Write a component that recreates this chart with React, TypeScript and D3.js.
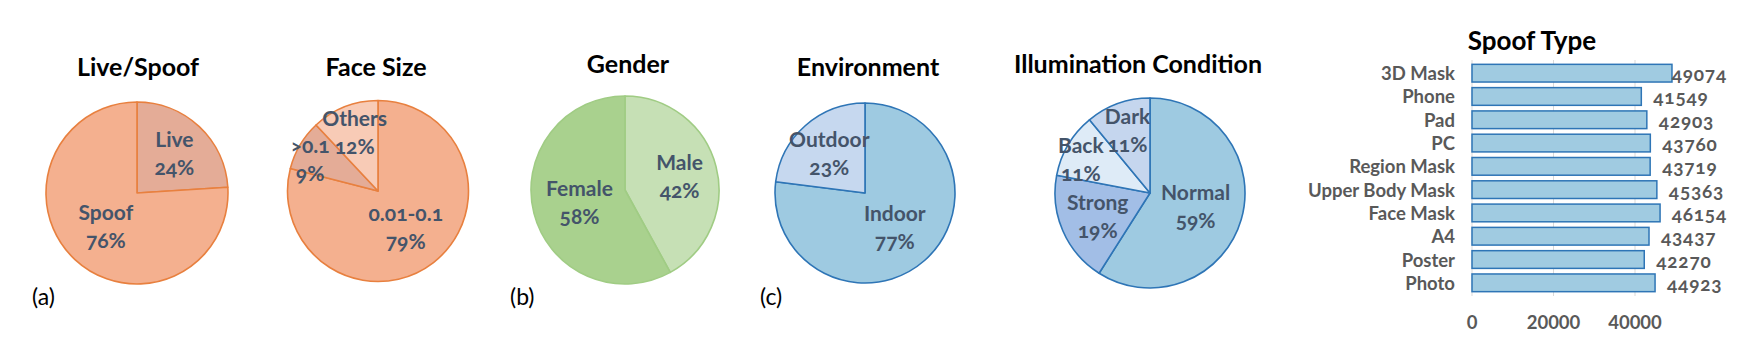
import * as d3 from 'd3';

const W = 1754;
const H = 362;

// pie data
const liveSpoofLabels = ['Live', 'Spoof'];
const liveSpoofValues = [24, 76];
const faceSizeLabels = ['0.01-0.1', '>0.1', 'Others'];
const faceSizeValues = [79, 9, 12];
const genderLabels = ['Male', 'Female'];
const genderValues = [42, 58];
const envLabels = ['Indoor', 'Outdoor'];
const envValues = [77, 23];
const illumLabels = ['Normal', 'Strong', 'Back', 'Dark'];
const illumValues = [59, 19, 11, 11];

// bar data
const spoofTypes = ['3D Mask', 'Phone', 'Pad', 'PC', 'Region Mask', 'Upper Body Mask', 'Face Mask', 'A4', 'Poster', 'Photo'];
const spoofCounts = [49074, 41549, 42903, 43760, 43719, 45363, 46154, 43437, 42270, 44923];
const xTicks = [0, 20000, 40000];

const FONT = 'Lato, "Open Sans", sans-serif';
const LABEL = '#44546a';
const LABEL_SIZE = 21;
const LINE_GAP = 28;

let measureCtx: CanvasRenderingContext2D | null = null;
function textWidth(s: string) {
  if (!measureCtx) measureCtx = document.createElement('canvas').getContext('2d');
  if (!measureCtx) return s.length * LABEL_SIZE * 0.55;
  measureCtx.font = `700 ${LABEL_SIZE}px ${FONT}`;
  return measureCtx.measureText(s).width;
}

interface PieProps {
  title: string;
  labels: string[];
  values: number[];
  fills: string[];
  stroke: string;
  cx: number;
  cy: number;
  r: number;
  titleX: number;
  titleY: number;
}

function Pie({ title, labels, values, fills, stroke, cx, cy, r, titleX, titleY }: PieProps) {
  const total = d3.sum(values);
  const arcs = d3.pie<number>().sort(null).value((d) => d)(values);
  const arc = d3.arc<d3.PieArcDatum<number>>().innerRadius(0).outerRadius(r);

  const pos = arcs.map((a, i) => {
    const frac = a.value / total;
    // big slices get their label nearer the centre, thin ones further out
    const lr = (frac > 0.5 ? 0.5 : frac < 0.15 ? 0.7 : 0.6) * r;
    const mid = (a.startAngle + a.endAngle) / 2;
    return {
      x: Math.sin(mid) * lr,
      y: -Math.cos(mid) * lr,
      rows: [textWidth(labels[i]), textWidth(`${a.value}%`)],
    };
  });

  // nudge the lower label away when two label rows collide
  const boxes = (p: (typeof pos)[number]) =>
    p.rows.map((w, k) => {
      const base = p.y - 6 + k * LINE_GAP;
      return { x0: p.x - w / 2, x1: p.x + w / 2, y0: base - 15, y1: base };
    });
  for (let iter = 0; iter < 4; iter++) {
    for (let i = 0; i < pos.length; i++) {
      for (let j = i + 1; j < pos.length; j++) {
        for (const a of boxes(pos[i])) {
          for (const b of boxes(pos[j])) {
            const ox = Math.min(a.x1, b.x1) - Math.max(a.x0, b.x0);
            const oy = Math.min(a.y1, b.y1) - Math.max(a.y0, b.y0);
            if (ox <= 0 || oy <= 0) continue;
            const lower = pos[i].y > pos[j].y ? pos[i] : pos[j];
            const upper = lower === pos[i] ? pos[j] : pos[i];
            if (ox < oy) lower.x += (lower.x < upper.x ? -1 : 1) * (ox + 3);
            else lower.y += oy + 3;
          }
        }
      }
    }
  }

  return (
    <g>
      <text x={titleX} y={titleY} textAnchor="middle" fontFamily={FONT} fontWeight={700} fontSize={25} fill="#000">
        {title}
      </text>
      <g transform={`translate(${cx},${cy})`}>
        {arcs.map((a, i) => (
          <path key={i} d={arc(a) ?? ''} fill={fills[i]} stroke={stroke} strokeWidth={1.6} strokeLinejoin="round" />
        ))}
        {arcs.map((a, i) => {
          const { x, y } = pos[i];
          return (
            <text key={i} x={x} y={y} textAnchor="middle" fontFamily={FONT} fontWeight={700} fontSize={LABEL_SIZE} fill={LABEL}
              style={{ fontVariantNumeric: 'oldstyle-nums' }}>
              <tspan x={x} dy={-6}>{labels[i]}</tspan>
              <tspan x={x} dy={LINE_GAP}>{`${a.value}%`}</tspan>
            </text>
          );
        })}
      </g>
    </g>
  );
}

function SpoofBars() {
  const x = d3.scaleLinear().domain([0, 60000]).range([1472, 1716.5]);
  const y = d3.scaleBand<string>().domain(spoofTypes).range([62, 294]).paddingInner(0.24).paddingOuter(0.1);
  const maxLabelX = x(49000);
  return (
    <g fontFamily={FONT} fontWeight={700}>
      <text x={1532} y={50} textAnchor="middle" fontSize={26} fill="#000">Spoof Type</text>
      {xTicks.map((t) => (
        <line key={t} x1={x(t)} x2={x(t)} y1={60} y2={296} stroke="#d9d9d9" strokeWidth={1} />
      ))}
      {spoofTypes.map((c, i) => (
        <rect key={c} x={x(0)} y={y(c)} width={x(spoofCounts[i]) - x(0)} height={y.bandwidth()}
          fill="#a0cbe1" stroke="#2e75b6" strokeWidth={1.5} />
      ))}
      {spoofTypes.map((c) => (
        <text key={c} x={1455} y={(y(c) ?? 0) + y.bandwidth() / 2 + 7} textAnchor="end" fontSize={18.5} fill="#595959">
          {c}
        </text>
      ))}
      {spoofTypes.map((c, i) => (
        <text key={c} x={Math.min(x(spoofCounts[i]) + 12, maxLabelX)} y={(y(c) ?? 0) + y.bandwidth() / 2 + 8}
          fontSize={19} letterSpacing={0.8} fill="#595959" style={{ fontVariantNumeric: 'oldstyle-nums' }}>
          {spoofCounts[i]}
        </text>
      ))}
      {xTicks.map((t) => (
        <text key={t} x={x(t)} y={329} textAnchor="middle" fontSize={18.5} fill="#595959">{t}</text>
      ))}
    </g>
  );
}

export default function App() {
  const tag = (t: string, x: number) => (
    <text x={x} y={305} fontFamily={FONT} fontSize={23} fill="#000">{t}</text>
  );
  return (
    <svg width={W} height={H} style={{ position: 'absolute', left: 0, top: 0, background: '#fff' }}>
      <rect width={W} height={H} fill="#fff" />
      <Pie title="Live/Spoof" labels={liveSpoofLabels} values={liveSpoofValues}
        fills={['#e4ac97', '#f4b08f']} stroke="#e8803f" cx={137} cy={193} r={91} titleX={138} titleY={76} />
      <Pie title="Face Size" labels={faceSizeLabels} values={faceSizeValues}
        fills={['#f4b08f', '#e4ac97', '#f8cbb6']} stroke="#e8803f" cx={378} cy={191} r={90.5} titleX={376} titleY={76} />
      <Pie title="Gender" labels={genderLabels} values={genderValues}
        fills={['#c6e0b5', '#a9d18e']} stroke="#a0cc84" cx={625} cy={190} r={94} titleX={628} titleY={73} />
      <Pie title="Environment" labels={envLabels} values={envValues}
        fills={['#9ecae1', '#c6d8ef']} stroke="#2e75b6" cx={865} cy={193} r={90} titleX={868} titleY={76} />
      <Pie title="Illumination Condition" labels={illumLabels} values={illumValues}
        fills={['#9ecae1', '#a2bee6', '#deebf7', '#c5d6ee']} stroke="#2e75b6" cx={1150} cy={193} r={95} titleX={1138} titleY={73} />
      {tag('(a)', 32)}
      {tag('(b)', 510)}
      {tag('(c)', 760)}
      <SpoofBars />
    </svg>
  );
}
